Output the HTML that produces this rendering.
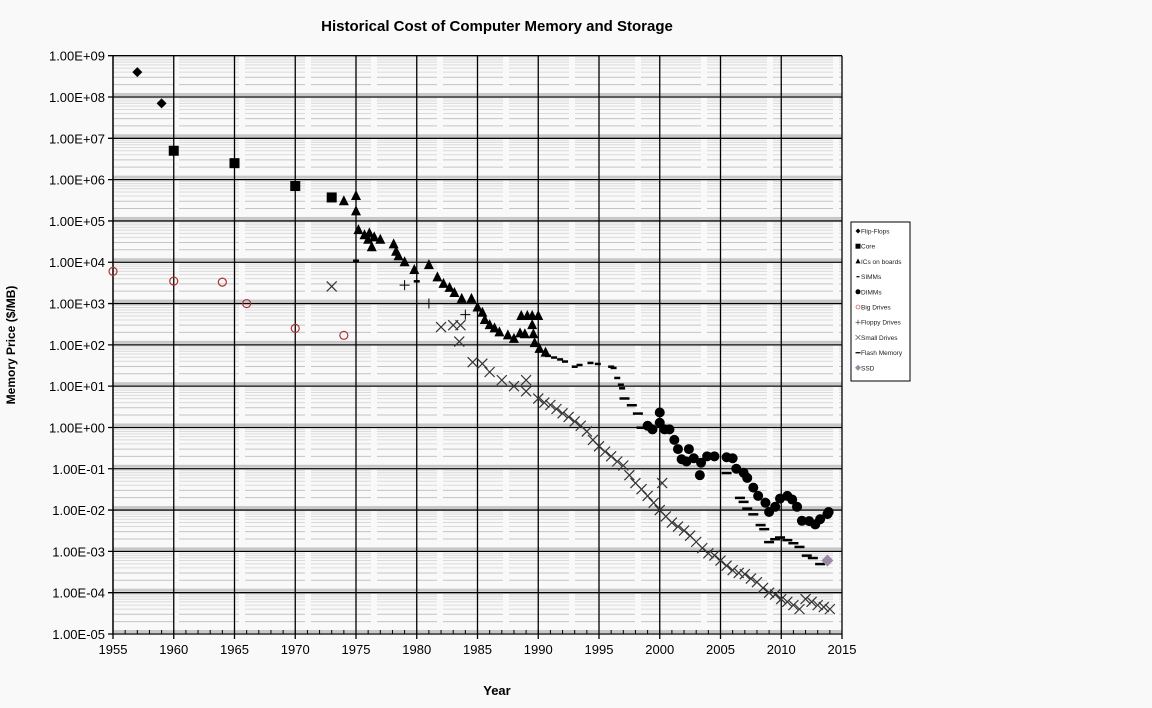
<!DOCTYPE html>
<html><head><meta charset="utf-8"><style>
body{margin:0;background:#f9f9f9;}
svg{display:block;font-family:"Liberation Sans",Arial,sans-serif;}
</style></head><body>
<svg id="c" width="1152" height="708" viewBox="0 0 1152 708">
<rect width="1152" height="708" fill="#f9f9f9"/>
<text x="497" y="31" text-anchor="middle" font-size="15" font-weight="bold">Historical Cost of Computer Memory and Storage</text>
<text x="497" y="695" text-anchor="middle" font-size="13" font-weight="bold">Year</text>
<text transform="translate(15,345) rotate(-90)" text-anchor="middle" font-size="12" font-weight="bold">Memory Price ($/MB)</text>
<g id="grid"></g><g id="axes"></g><g id="marks"></g><g id="legend"></g>
</svg>
<script>
const flipFlops=[[1957,4e8],[1959,7e7]];
const core=[[1960,5e6],[1965,2.5e6],[1970,7e5],[1973,3.7e5]];
const ics=[[1974,3e5],[1975,4e5],[1975,1.7e5],[1975.2,6e4],[1975.7,4.5e4],[1976.1,5e4],[1976,3.5e4],[1976.5,4e4],[1976.3,2.3e4],[1977,3.5e4],[1978.1,2.7e4],[1978.3,1.8e4],[1978.5,1.4e4],[1979,1e4],[1979.8,6.5e3],[1981,8.5e3],[1981.7,4.3e3],[1982.2,3e3],[1982.7,2.4e3],[1983.1,1.8e3],[1983.7,1.3e3],[1984.5,1.3e3],[1985,8e2],[1985.4,6e2],[1985.6,4e2],[1986,3e2],[1986.4,2.5e2],[1986.8,2e2],[1987.5,1.7e2],[1988,1.4e2],[1988.5,1.9e2],[1988.9,1.8e2],[1988.6,5e2],[1989.1,5e2],[1989.5,5e2],[1990,5e2],[1989.5,3e2],[1989.6,1.8e2],[1989.7,1.1e2],[1990.1,8e1],[1990.6,6.5e1]];
const simms=[[1975,1.1e4],[1980,3.5e3],[1990.8,5.5e1],[1991.3,5e1],[1991.8,4.5e1],[1992.2,4e1],[1993,3e1],[1993.4,3.3e1],[1994.3,3.7e1],[1994.9,3.5e1],[1996,3e1],[1996.2,2.8e1],[1996.5,1.6e1],[1996.8,1.1e1],[1996.9,9]];
const dimms=[[1999,1.1],[1999.4,0.9],[2000,2.3],[2000,1.3],[2000.4,0.9],[2000.8,0.9],[2001.2,0.5],[2001.5,0.3],[2001.8,0.17],[2002.2,0.15],[2002.4,0.3],[2002.8,0.18],[2003.3,0.07],[2003.4,0.14],[2003.9,0.2],[2004.5,0.2],[2005.5,0.19],[2006,0.18],[2006.3,0.1],[2006.9,0.08],[2007.2,0.06],[2007.7,0.035],[2008.1,0.022],[2008.7,0.015],[2009,0.009],[2009.5,0.012],[2009.9,0.019],[2010.5,0.022],[2010.9,0.018],[2011.3,0.012],[2011.7,0.0055],[2012.3,0.0054],[2012.8,0.0045],[2013.2,0.006],[2013.8,0.008],[2013.9,0.009]];
const bigDrives=[[1955,6e3],[1960,3.5e3],[1964,3.3e3],[1966,1e3],[1970,2.5e2],[1974,1.7e2]];
const floppy=[[1979,2.8e3],[1981,1e3],[1984,5.4e2]];
const smallDrives=[[1973,2.6e3],[1982,2.7e2],[1983,3e2],[1983.6,3e2],[1983.5,1.2e2],[1984.6,3.8e1],[1985.4,3.5e1],[1986,2.2e1],[1987,1.4e1],[1988,1e1],[1989,1.4e1],[1989,7.5],[1990,5],[1990.5,4],[1991,3.5],[1991.5,2.8],[1992,2.2],[1992.5,1.8],[1993,1.4],[1993.5,1.1],[1994,0.8],[1994.5,0.5],[1995,0.35],[1995.5,0.26],[1996,0.2],[1996.5,0.15],[1997,0.12],[1997.5,0.07],[1998,0.045],[1998.5,0.032],[1999,0.022],[1999.5,0.015],[2000,0.01],[2000.2,0.045],[2000.5,0.007],[2001,0.005],[2001.5,0.004],[2002,0.0032],[2002.5,0.0024],[2003,0.0017],[2003.5,0.0012],[2004,0.0009],[2004.5,0.0008],[2005,0.0006],[2005.5,0.00045],[2006,0.00035],[2006.5,0.0003],[2007,0.00028],[2007.5,0.00022],[2008,0.00018],[2008.5,0.00013],[2009,0.0001],[2009.5,0.00009],[2010,0.00007],[2010.5,0.00006],[2011,0.00005],[2011.5,0.00004],[2012,0.00007],[2012.5,0.00006],[2013,0.00005],[2013.5,0.000045],[2014,0.00004]];
const flash=[[1997.1,5.1],[1997.7,3.5],[1998.2,2.2],[1998.5,1],[1999.2,1],[2005.5,0.08],[2006.6,0.02],[2006.9,0.016],[2007.2,0.011],[2007.7,0.008],[2008.3,0.0044],[2008.6,0.0035],[2009,0.0017],[2009.5,0.002],[2009.9,0.0022],[2010.5,0.0019],[2011,0.0016],[2011.5,0.0013],[2012.1,0.0008],[2012.6,0.0007],[2013.2,0.0005]];
const ssd=[[2013.8,0.0006]];
const yTicks=["1.00E-05","1.00E-04","1.00E-03","1.00E-02","1.00E-01","1.00E+00","1.00E+01","1.00E+02","1.00E+03","1.00E+04","1.00E+05","1.00E+06","1.00E+07","1.00E+08","1.00E+09"];
const xTicks=[1955,1960,1965,1970,1975,1980,1985,1990,1995,2000,2005,2010,2015];
const legendLabels=["Flip-Flops","Core","ICs on boards","SIMMs","DIMMs","Big Drives","Floppy Drives","Small Drives","Flash Memory","SSD"];

const NS="http://www.w3.org/2000/svg";
const X0=113,X1=842,Y0=634,Y1=55.7;
const xs=y=>X0+(y-1955)/60*(X1-X0);
const ys=v=>Y0-(Math.log10(v)+5)/14*(Y0-Y1);
function mk(t,a,p){const e=document.createElementNS(NS,t);for(const k in a)e.setAttribute(k,a[k]);p.appendChild(e);return e;}
const grid=document.getElementById('grid'),axes=document.getElementById('axes'),marks=document.getElementById('marks'),leg=document.getElementById('legend');
for(let d=-5;d<9;d++){for(let m=2;m<10;m++){const y=ys(m*Math.pow(10,d));const l=mk('line',{x1:X0,x2:X1,y1:y,y2:y,stroke:m<4?'#c4c4c4':'#dadada','stroke-width':1,'stroke-dasharray':'60 6'},grid);

}
const yb=ys(1.15*Math.pow(10,d));const b=mk('rect',{x:X0,y:yb-1.5,width:X1-X0,height:3,fill:'#c8c8c8'},grid);

}
yTicks.forEach((t,i)=>{const y=ys(Math.pow(10,i-5));const l=mk('line',{x1:X0-5,x2:X1,y1:y,y2:y,stroke:'#000','stroke-width':1.3},axes);


const tx=mk('text',{x:X0-8,y:y+5,'text-anchor':'end','font-size':13},axes);tx.textContent=t;

});
xTicks.forEach(t=>{const x=xs(t);const l=mk('line',{x1:x,x2:x,y1:Y1,y2:Y0+5,stroke:'#000','stroke-width':1.3},axes);


const tx=mk('text',{x:x,y:Y0+20,'text-anchor':'middle','font-size':13},axes);tx.textContent=t;

});
for(let yr=1955;yr<=2015;yr++){const x=xs(yr);mk('line',{x1:x,x2:x,y1:Y0,y2:Y0-4,stroke:'#000'},axes);}
mk('line',{x1:X0,x2:X0,y1:Y1,y2:Y0,stroke:'#000','stroke-width':1.3},axes);

function marker(type,x,y,g){let e;
if(type==='diamond')e=mk('path',{d:`M${x} ${y-5}L${x+5} ${y}L${x} ${y+5}L${x-5} ${y}Z`,fill:'#000'},g);
else if(type==='square')e=mk('rect',{x:x-5,y:y-5,width:10,height:10,fill:'#000'},g);
else if(type==='triangle')e=mk('path',{d:`M${x} ${y-6}L${x+5} ${y+4}L${x-5} ${y+4}Z`,fill:'#000'},g);
else if(type==='smalldash')e=mk('rect',{x:x-3,y:y-1,width:6,height:2.5,fill:'#000'},g);
else if(type==='circle')e=mk('circle',{cx:x,cy:y,r:5,fill:'#000'},g);
else if(type==='ocircle')e=mk('circle',{cx:x,cy:y,r:4,fill:'none',stroke:'#b03030','stroke-width':1.2},g);
else if(type==='plus')e=mk('path',{d:`M${x-5} ${y}H${x+5}M${x} ${y-5}V${y+5}`,stroke:'#000','stroke-width':1},g);
else if(type==='x')e=mk('path',{d:`M${x-5} ${y-5}L${x+5} ${y+5}M${x+5} ${y-5}L${x-5} ${y+5}`,stroke:'#333','stroke-width':1.2},g);
else if(type==='dash')e=mk('rect',{x:x-5,y:y-1,width:10,height:2.5,fill:'#000'},g);
else e=mk('path',{d:`M${x} ${y-6}L${x+6} ${y}L${x} ${y+6}L${x-6} ${y}Z`,fill:'#9a8aa8'},g);
return e;}
const series=[[flipFlops,'diamond','flip-flops'],[core,'square','core'],[ics,'triangle','ics-on-boards'],[simms,'smalldash','simms'],[dimms,'circle','dimms'],[bigDrives,'ocircle','big-drives'],[floppy,'plus','floppy-drives'],[smallDrives,'x','small-drives'],[flash,'dash','flash-memory'],[ssd,'ssd','ssd']];
series.forEach(([data,type,name])=>{const g=mk('g',{},marks);


data.forEach(([yr,v])=>{const e=marker(type,xs(yr),ys(v),g);

});});
const lb=mk('rect',{x:851,y:222,width:59,height:159,fill:'#fff',stroke:'#000'},leg);


legendLabels.forEach((t,i)=>{const y=231+i*15.2;const g=mk('g',{transform:`translate(858,${y}) scale(0.5) translate(-858,${-y})`},leg);marker(series[i][1],858,y,g);


const tx=mk('text',{x:861,y:y+2.5,'font-size':6.5,fill:'#222'},leg);tx.textContent=t;

});
</script>
</body></html>
